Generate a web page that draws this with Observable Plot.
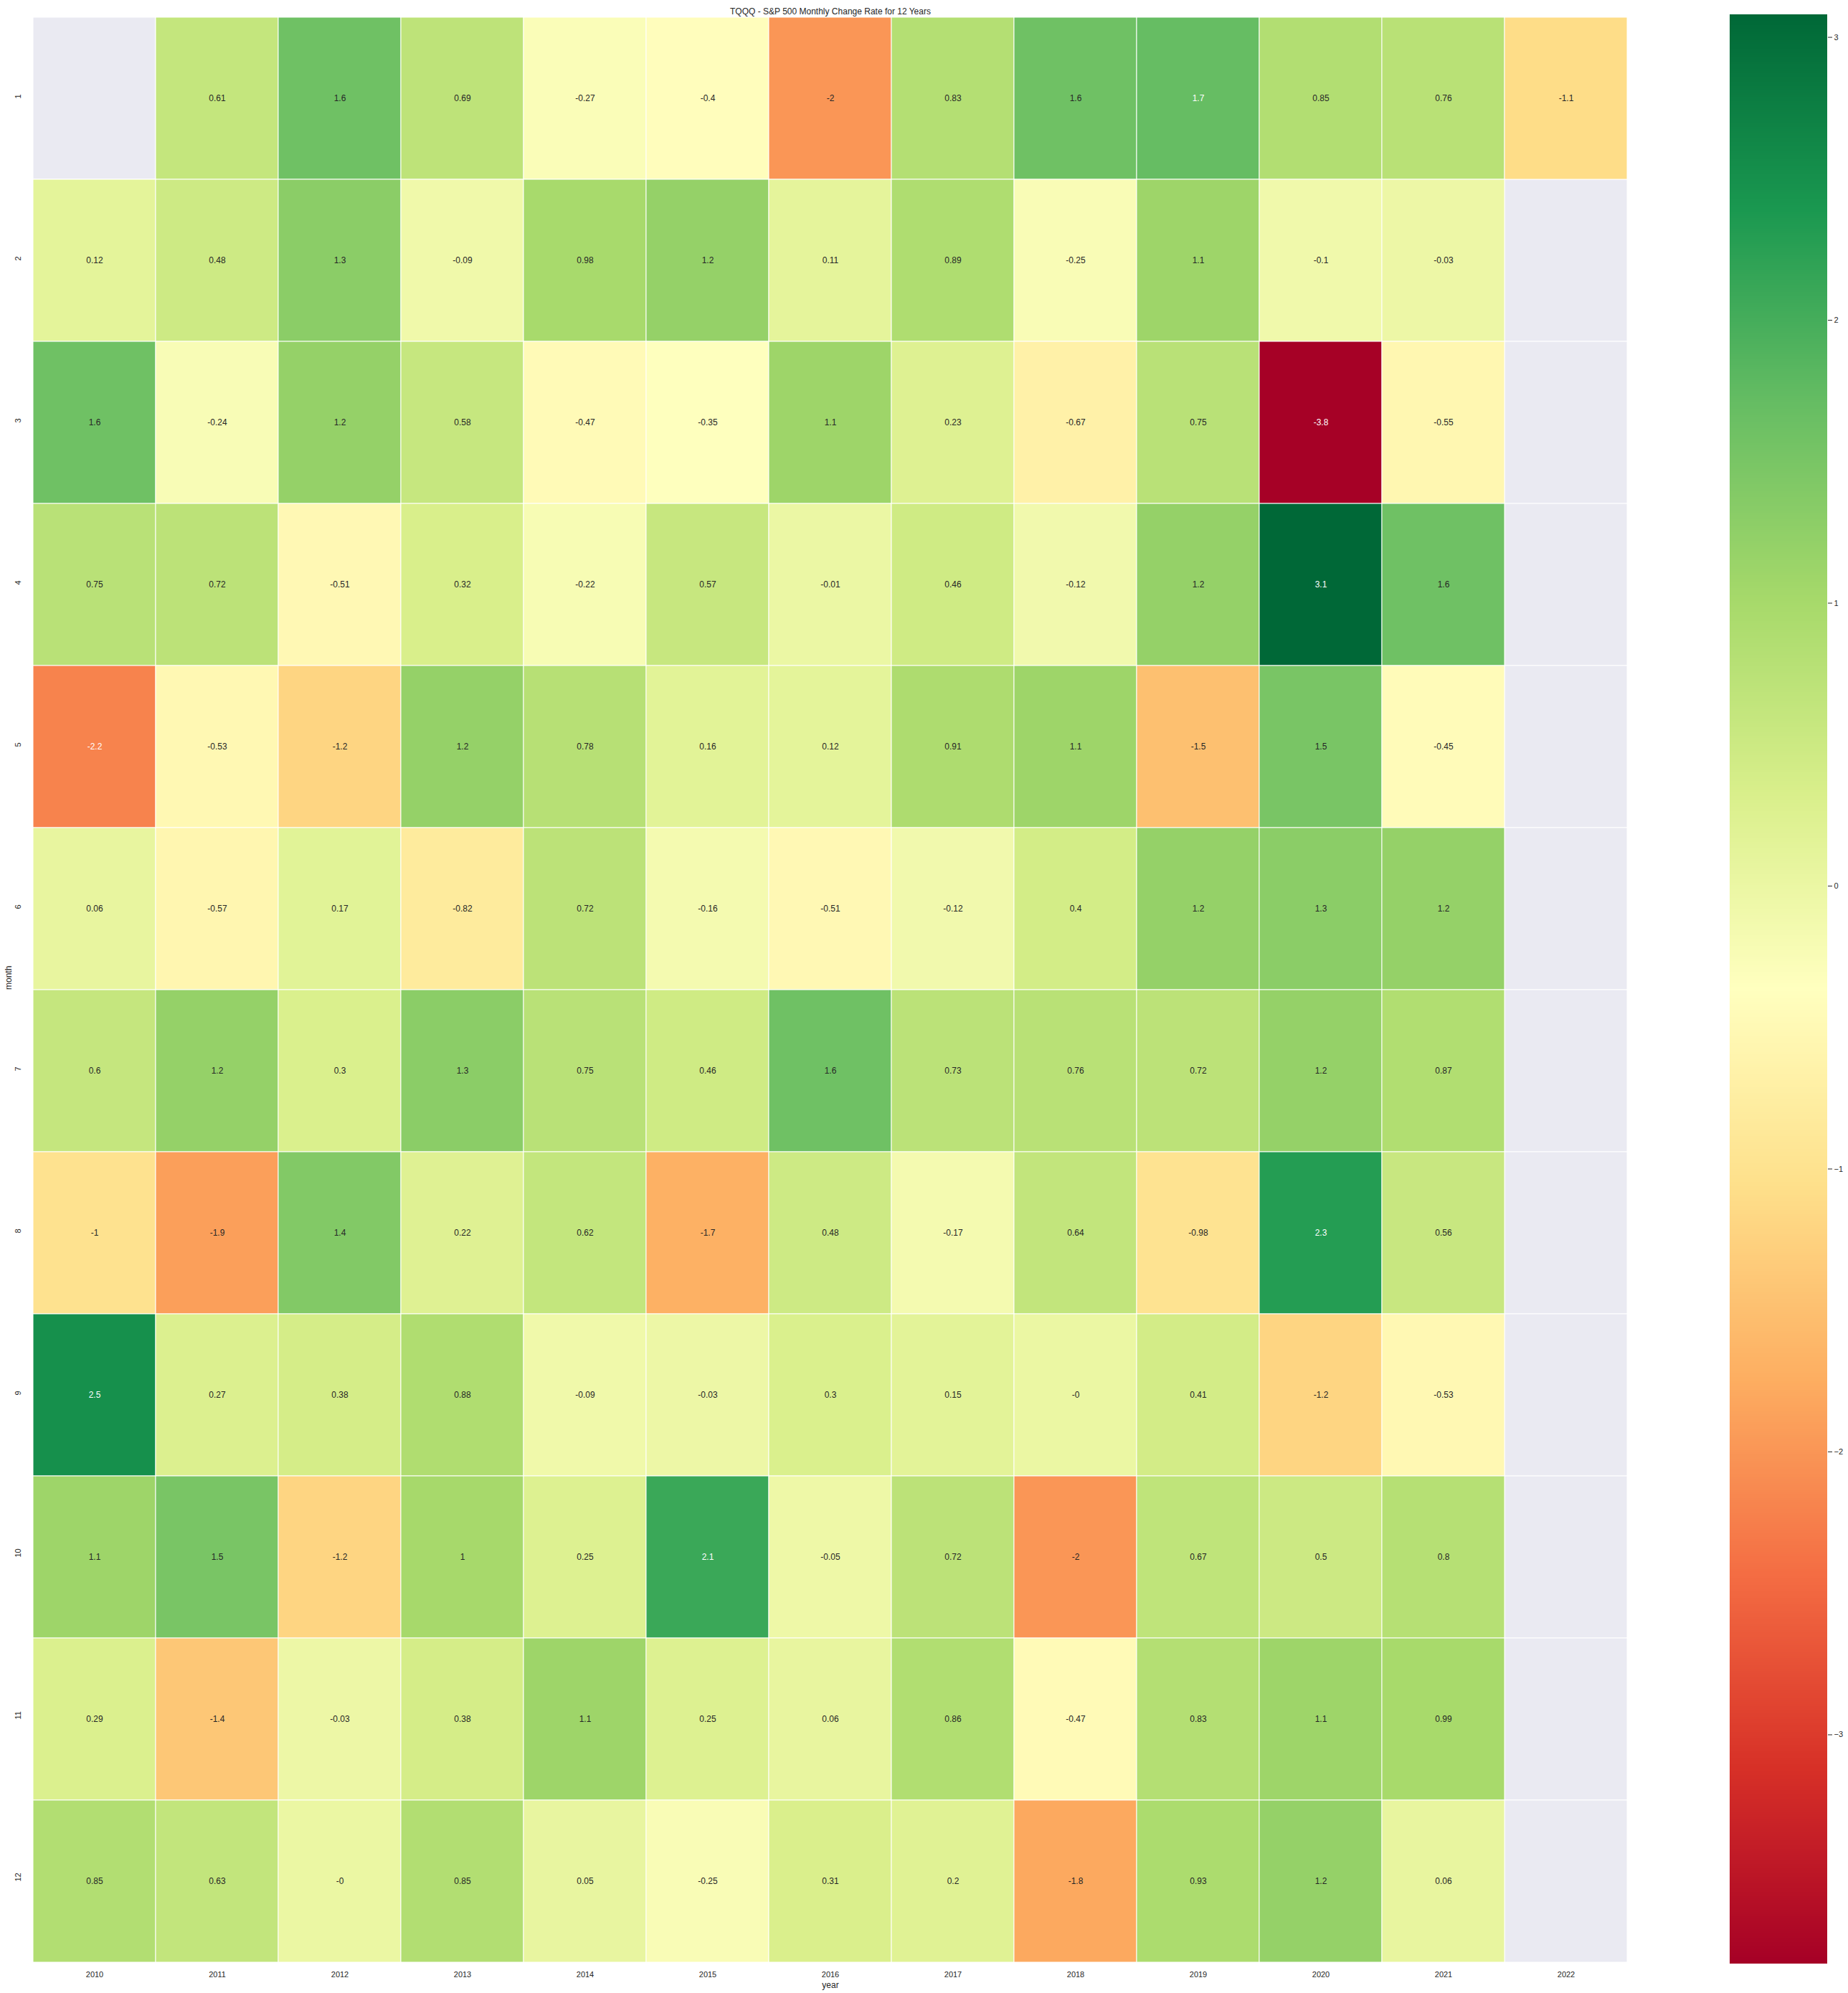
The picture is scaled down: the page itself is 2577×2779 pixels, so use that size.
<!DOCTYPE html>
<html>
<head>
<meta charset="utf-8">
<script src="https://cdn.jsdelivr.net/npm/d3@7"></script>
<script src="https://cdn.jsdelivr.net/npm/@observablehq/plot@0.6"></script>
<style>
  html, body { margin: 0; padding: 0; background: #ffffff; }
  #chart { position: relative; width: 2577px; height: 2779px; overflow: hidden; }
  #chart svg { position: absolute; top: 0; }
</style>
</head>
<body>
<div id="chart"></div>
<script>
// ---- data ----
const title = "TQQQ - S&P 500 Monthly Change Rate for 12 Years";
const years = [2010, 2011, 2012, 2013, 2014, 2015, 2016, 2017, 2018, 2019, 2020, 2021, 2022];
const months = [1, 2, 3, 4, 5, 6, 7, 8, 9, 10, 11, 12];
const month01 = [null, 0.61, 1.6, 0.69, -0.27, -0.4, -2, 0.83, 1.6, 1.7, 0.85, 0.76, -1.1];
const month02 = [0.12, 0.48, 1.3, -0.09, 0.98, 1.2, 0.11, 0.89, -0.25, 1.1, -0.1, -0.03, null];
const month03 = [1.6, -0.24, 1.2, 0.58, -0.47, -0.35, 1.1, 0.23, -0.67, 0.75, -3.8, -0.55, null];
const month04 = [0.75, 0.72, -0.51, 0.32, -0.22, 0.57, -0.01, 0.46, -0.12, 1.2, 3.1, 1.6, null];
const month05 = [-2.2, -0.53, -1.2, 1.2, 0.78, 0.16, 0.12, 0.91, 1.1, -1.5, 1.5, -0.45, null];
const month06 = [0.06, -0.57, 0.17, -0.82, 0.72, -0.16, -0.51, -0.12, 0.4, 1.2, 1.3, 1.2, null];
const month07 = [0.6, 1.2, 0.3, 1.3, 0.75, 0.46, 1.6, 0.73, 0.76, 0.72, 1.2, 0.87, null];
const month08 = [-1, -1.9, 1.4, 0.22, 0.62, -1.7, 0.48, -0.17, 0.64, -0.98, 2.3, 0.56, null];
const month09 = [2.5, 0.27, 0.38, 0.88, -0.09, -0.03, 0.3, 0.15, -0, 0.41, -1.2, -0.53, null];
const month10 = [1.1, 1.5, -1.2, 1, 0.25, 2.1, -0.05, 0.72, -2, 0.67, 0.5, 0.8, null];
const month11 = [0.29, -1.4, -0.03, 0.38, 1.1, 0.25, 0.06, 0.86, -0.47, 0.83, 1.1, 0.99, null];
const month12 = [0.85, 0.63, -0, 0.85, 0.05, -0.25, 0.31, 0.2, -1.8, 0.93, 1.2, 0.06, null];
const colorDomain = [-3.81, 3.08];
const colorbarTicks = [-3, -2, -1, 0, 1, 2, 3];
const rdylgn = ["#a50026","#d73027","#f46d43","#fdae61","#fee08b","#ffffbf","#d9ef8b","#a6d96a","#66bd63","#1a9850","#006837"];

// ---- build table ----
const rows = [month01, month02, month03, month04, month05, month06, month07, month08, month09, month10, month11, month12];
const table = months.flatMap((m, i) => years.map((y, j) => ({month: m, year: y, value: rows[i][j]})));
const valid = table.filter(d => d.value !== null && d.value !== undefined);
const fmt = v => Object.is(v, -0) ? "-0" : String(v);

const interp = d3.piecewise(d3.interpolateRgb, rdylgn);
function lum(v) {
  const t = Math.max(0, Math.min(1, (v - colorDomain[0]) / (colorDomain[1] - colorDomain[0])));
  const c = d3.rgb(interp(t));
  const f = x => { x /= 255; return x <= 0.03928 ? x / 12.92 : Math.pow((x + 0.055) / 1.055, 2.4); };
  return 0.2126 * f(c.r) + 0.7152 * f(c.g) + 0.0722 * f(c.b);
}
const darkText = valid.filter(d => lum(d.value) > 0.408);
const lightText = valid.filter(d => lum(d.value) <= 0.408);

const FONT = "'Liberation Sans', Arial, Helvetica, sans-serif";
const INK = "#262626";

const W = 2577, H = 2779;
const axLeft = 42, axRight = 2273, axTop = 21, axBottom = 2738;

const colorScale = {type: "linear", domain: colorDomain, interpolate: interp, clamp: true};

const main = Plot.plot({
  width: W, height: H,
  marginLeft: axLeft, marginRight: W - axRight, marginTop: axTop, marginBottom: H - axBottom,
  style: {fontFamily: FONT, fontSize: "12px", color: INK, background: "transparent", overflow: "visible"},
  x: {domain: years, padding: 0, axis: null},
  y: {domain: months, padding: 0, axis: null},
  color: colorScale,
  marks: [
    Plot.cell(table, {x: "year", y: "month", fill: "#eaeaf2", stroke: "white", strokeWidth: 1}),
    Plot.cell(valid, {x: "year", y: "month", fill: "value", stroke: "white", strokeWidth: 1}),
    Plot.text(darkText, {x: "year", y: "month", text: d => fmt(d.value), fill: INK, fontSize: 12}),
    Plot.text(lightText, {x: "year", y: "month", text: d => fmt(d.value), fill: "white", fontSize: 12}),
    Plot.text(years, {x: d => d, frameAnchor: "bottom", dy: 18, text: d => String(d), fill: INK, fontSize: 11}),
    Plot.text(months, {y: d => d, frameAnchor: "left", dx: -17, rotate: -90, text: d => String(d), fill: INK, fontSize: 11}),
    Plot.text(["year"], {frameAnchor: "bottom", dy: 33, text: d => d, fill: INK, fontSize: 12}),
    Plot.text(["month"], {frameAnchor: "left", dx: -30, rotate: -90, text: d => d, fill: INK, fontSize: 12}),
    Plot.text([title], {frameAnchor: "top", dy: -10, text: d => d, fill: INK, fontSize: 12})
  ]
});
main.style.left = "0px";

// ---- colorbar ----
const cbLeft = 2412, cbRight = 2548, cbW = W - cbLeft;
const N = 900;
const slices = d3.range(N).map(i => ({
  y1: colorDomain[0] + (colorDomain[1] - colorDomain[0]) * i / N,
  y2: colorDomain[0] + (colorDomain[1] - colorDomain[0]) * (i + 1) / N,
  v: colorDomain[0] + (colorDomain[1] - colorDomain[0]) * (i + 0.5) / N
}));
const cb = Plot.plot({
  width: cbW, height: H,
  marginLeft: 0, marginRight: cbW - (cbRight - cbLeft), marginTop: 20, marginBottom: H - axBottom,
  style: {fontFamily: FONT, fontSize: "11px", color: INK, background: "transparent", overflow: "visible"},
  x: {domain: [0, 1], axis: null},
  y: {domain: colorDomain, axis: "right", ticks: colorbarTicks, tickFormat: d3.format("d"), tickSize: 6, tickPadding: 3, label: null},
  color: colorScale,
  marks: [
    Plot.rect(slices, {x1: d => 0, x2: d => 1, y1: "y1", y2: "y2", fill: "v", shapeRendering: "crispEdges"})
  ]
});
cb.style.left = cbLeft + "px";

const chart = document.getElementById("chart");
chart.appendChild(main);
chart.appendChild(cb);
</script>
</body>
</html>
